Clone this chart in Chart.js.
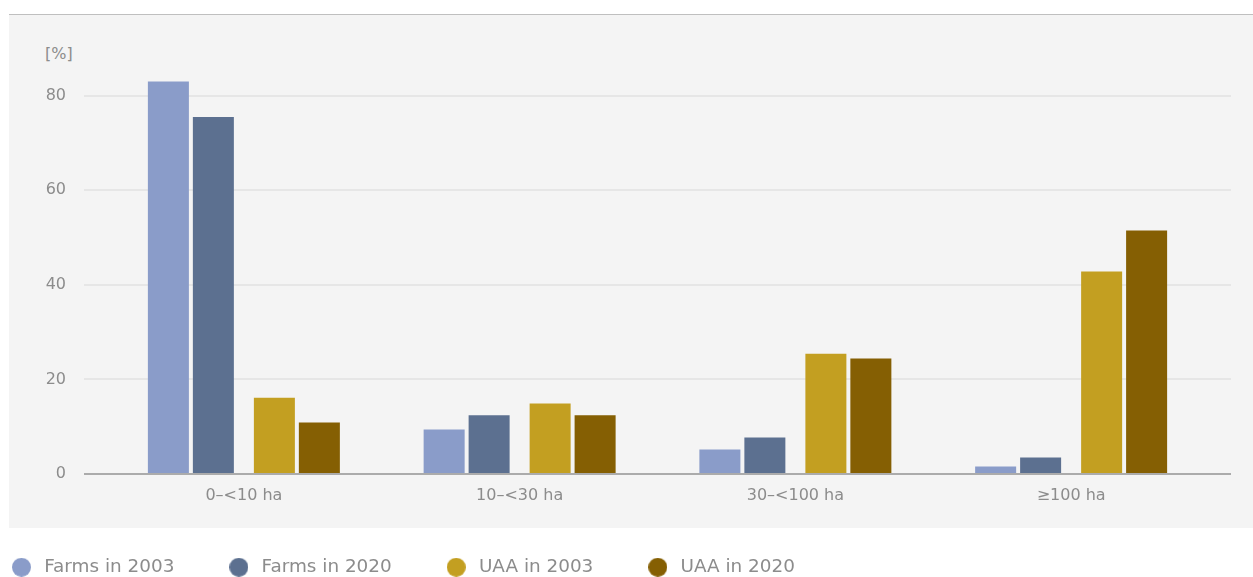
<!DOCTYPE html>
<html>
<head>
<meta charset="utf-8">
<script src="https://cdn.jsdelivr.net/npm/chart.js@4/dist/chart.umd.min.js"></script>
<style>
  html, body { margin: 0; padding: 0; background: #fff; overflow: hidden; }
  body { width: 1253px; height: 577px; position: relative; font-family: "DejaVu Sans", sans-serif; }
  #panel { position: absolute; left: 9px; top: 14px; width: 1244px; height: 513px; background: #f4f4f4; border-top: 1px solid #bfbfbf; }
  #unit { position: absolute; left: 45px; top: 44px; font-size: 16px; line-height: 19px; color: #8c8c8c; }
  #wrap { position: absolute; left: -43px; top: 0; width: 1296px; height: 577px; }
</style>
</head>
<body>
<div id="panel"></div>
<div id="unit">[%]</div>
<div id="wrap"><canvas id="farmChart"></canvas></div>
<script>
// Data
const sizeClasses = ["0\u2013<10 ha", "10\u2013<30 ha", "30\u2013<100 ha", "\u2265100 ha"];
const seriesNames = ["Farms in 2003", "Farms in 2020", "UAA in 2003", "UAA in 2020"];
const farms2003 = [83.0, 9.4, 5.2, 1.6];
const farms2020 = [75.5, 12.4, 7.7, 3.5];
const uaa2003 = [16.1, 14.9, 25.4, 42.8];
const uaa2020 = [10.9, 12.4, 24.4, 51.5];
const yTicks = [0, 20, 40, 60, 80];

const colors = ["#8a9cc9", "#5c7090", "#c39f21", "#855f03"];
// per-series spacing so the two pairs sit apart like the original
const catPct = [0.730, 0.885, 0.885, 0.730];
const barPct = [0.815, 0.672, 0.672, 0.815];

const textGrey = "#8c8c8c";
const legendPad = 51;
const gridOverhang = 22;

// round legend markers
function makeDot(color) {
    const c = document.createElement('canvas');
    c.width = 19; c.height = 19;
    const g = c.getContext('2d');
    g.fillStyle = color;
    g.beginPath();
    g.arc(9.5, 9.5, 9.5, 0, Math.PI * 2);
    g.fill();
    return c;
}
const dots = colors.map(makeDot);

// grid lines run a bit past the plot area on both sides
const gridPlugin = {
    id: 'wideGrid',
    afterInit(chart) {
        const lg = chart.legend;
        const fit = lg.fit;
        lg.fit = function () {
            fit.call(this);
            this.height = legendPad + 19;
        };
    },
    beforeDatasetsDraw(chart) {
        const { ctx, chartArea, scales } = chart;
        ctx.save();
        ctx.strokeStyle = "#e6e6e6";
        ctx.lineWidth = 2;
        yTicks.forEach(v => {
            if (v === 0) return;
            const y = Math.round(scales.y.getPixelForValue(v));
            ctx.beginPath();
            ctx.moveTo(chartArea.left - gridOverhang, y);
            ctx.lineTo(chartArea.right + gridOverhang, y);
            ctx.stroke();
        });
        ctx.restore();
    },
    afterDatasetsDraw(chart) {
        const { ctx, chartArea, scales } = chart;
        const y = Math.round(scales.y.getPixelForValue(0));
        ctx.save();
        ctx.strokeStyle = "#ababab";
        ctx.lineWidth = 2;
        ctx.beginPath();
        ctx.moveTo(chartArea.left - gridOverhang, y);
        ctx.lineTo(chartArea.right + gridOverhang, y);
        ctx.stroke();
        ctx.restore();
    }
};

const allSeries = [farms2003, farms2020, uaa2003, uaa2020];

const datasets = allSeries.map((vals, i) => ({
    label: seriesNames[i],
    data: vals,
    backgroundColor: colors[i],
    categoryPercentage: catPct[i],
    barPercentage: barPct[i]
}));

const ctx = document.getElementById('farmChart').getContext('2d');
const myChart = new Chart(ctx, {
    type: 'bar',
    data: { labels: sizeClasses, datasets: datasets },
    options: {
        responsive: true,
        maintainAspectRatio: false,
        animation: false,
        layout: { padding: { top: 72, right: 44, left: 0, bottom: 0 } },
        plugins: {
            tooltip: { enabled: false },
            legend: {
                position: 'bottom',
                align: 'start',
                labels: {
                    usePointStyle: true,
                    pointStyleWidth: 27,
                    padding: legendPad,
                    color: textGrey,
                    font: { family: "DejaVu Sans", size: 18.4 },
                    generateLabels: (chart) => chart.data.datasets.map((ds, i) => ({
                        text: ds.label,
                        pointStyle: dots[i],
                        fillStyle: ds.backgroundColor,
                        strokeStyle: 'transparent',
                        lineWidth: 0,
                        fontColor: textGrey,
                        hidden: false,
                        datasetIndex: i
                    }))
                }
            }
        },
        scales: {
            x: {
                grid: { display: false, drawTicks: false },
                border: { display: false },
                ticks: {
                    padding: 12,
                    color: textGrey,
                    font: { family: "DejaVu Sans", size: 16 }
                },
                afterFit(s) { s.height = 33; }
            },
            y: {
                min: 0,
                max: 85,
                grid: { display: false, drawTicks: false },
                border: { display: false },
                afterBuildTicks(s) { s.ticks = yTicks.map(v => ({ value: v })); },
                ticks: {
                    padding: 40,
                    color: textGrey,
                    font: { family: "DejaVu Sans", size: 16 }
                },
                afterFit(s) { s.width = 149; }
            }
        }
    },
    plugins: [gridPlugin]
});
</script>
</body>
</html>
